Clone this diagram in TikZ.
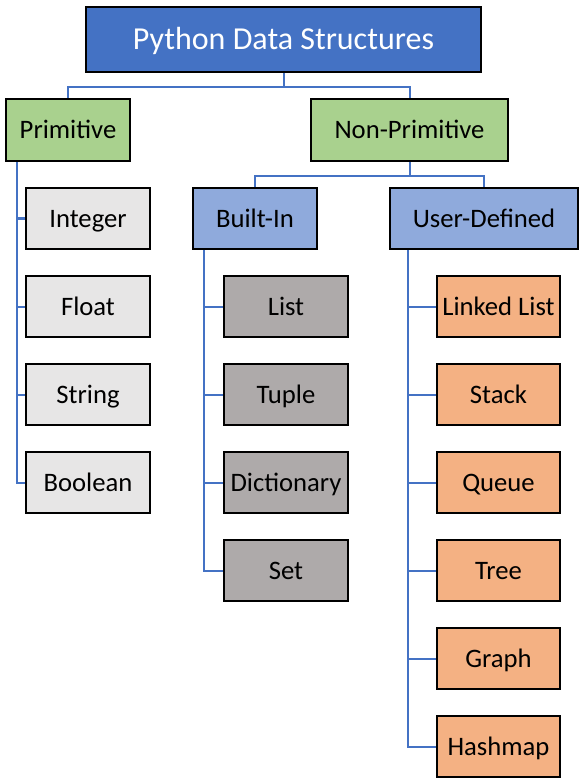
\documentclass[tikz,border=0pt]{standalone}
\usepackage{fontspec}
\setmainfont{Carlito}
\usetikzlibrary{positioning,calc}
\definecolor{titleblue}{RGB}{68, 114, 196}
\definecolor{primgreen}{RGB}{169, 209, 142}
\definecolor{kindblue}{RGB}{143, 170, 220}
\definecolor{lightgrey}{RGB}{231, 230, 230}
\definecolor{darkgrey}{RGB}{174, 170, 170}
\definecolor{userorange}{RGB}{244, 177, 131}

\begin{document}
\begin{tikzpicture}[x=0.75pt, y=-0.75pt,
        box/.style={draw=black, line width=1.6pt, inner sep=0pt, minimum height=45.75pt, text height=12.9pt, text depth=0pt, font=\fontsize{20}{24}\selectfont},
        primleaf/.style={box, fill=lightgrey, minimum width=93pt},
        builtleaf/.style={box, fill=darkgrey, minimum width=93pt},
        userleaf/.style={box, fill=userorange, minimum width=92.25pt},
        conn/.style={draw=titleblue, line width=1.5pt}]
        \useasboundingbox (0,0) rectangle (585,784);

        % Top level
        \node[box, fill=titleblue, text=white, minimum width=296.25pt, minimum height=48.75pt, text height=15.5pt, font=\fontsize{24}{28}\selectfont] (title) at (283.5, 39.5) {Python Data Structures};
        \node[box, fill=primgreen, minimum width=93pt, minimum height=46.5pt] (prim) at (68, 130) {Primitive};
        \node[box, fill=primgreen, minimum width=147.75pt, minimum height=46.5pt] (nonprim) at (409.5, 130) {Non-Primitive};

        % Second level
        \node[box, fill=kindblue, minimum width=93pt] (built) at (255, 218.5) {Built-In};
        \node[box, fill=kindblue, minimum width=141pt] (user) at (484, 218.5) {User-Defined};

        % Primitive types
        \node[primleaf] (int) at (88, 218.5) {Integer};
        \node[primleaf] (flt) at (88, 306.5) {Float};
        \node[primleaf] (str) at (88, 394.5) {String};
        \node[primleaf] (bool) at (88, 482.5) {Boolean};

        % Built-in types
        \node[builtleaf] (list) at (286, 306.5) {List};
        \node[builtleaf] (tuple) at (286, 394.5) {Tuple};
        \node[builtleaf] (dict) at (286, 482.5) {Dictionary};
        \node[builtleaf] (set) at (286, 570.5) {Set};

        % User-defined types
        \node[userleaf] (linked) at (498.5, 306.5) {Linked List};
        \node[userleaf] (stack) at (498.5, 394.5) {Stack};
        \node[userleaf] (queue) at (498.5, 482.5) {Queue};
        \node[userleaf] (tree) at (498.5, 570.5) {Tree};
        \node[userleaf] (graph) at (498.5, 658.5) {Graph};
        \node[userleaf] (hash) at (498.5, 746.5) {Hashmap};

        % Connectors
        \draw[conn] (title.south) -- ++(0,14) -| (prim.north);
        \draw[conn] (title.south) -- ++(0,14) -| (nonprim.north);
        \draw[conn] (nonprim.south) -- ++(0,14) -| (built.north);
        \draw[conn] (nonprim.south) -- ++(0,14) -| (user.north);
        \foreach \n in {int,flt,str,bool}
            \draw[conn] ([xshift=9pt]prim.south west) |- (\n.west);
        \foreach \n in {list,tuple,dict,set}
            \draw[conn] ([xshift=9pt]built.south west) |- (\n.west);
        \foreach \n in {linked,stack,queue,tree,graph,hash}
            \draw[conn] ([xshift=14.25pt]user.south west) |- (\n.west);
\end{tikzpicture}
\end{document}
